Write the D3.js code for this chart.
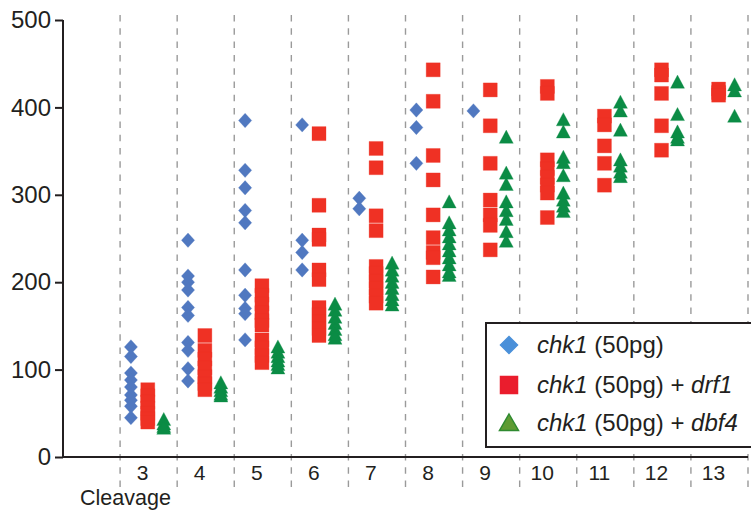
<!DOCTYPE html>
<html>
<head>
<meta charset="utf-8">
<script src="https://cdn.jsdelivr.net/npm/d3@7"></script>
<style>
  html, body { margin: 0; padding: 0; background: #fff; }
  svg { display: block; }
  text { font-family: "Liberation Sans", Arial, sans-serif; fill: #231f20; }
</style>
</head>
<body>
<svg id="chart" width="751" height="510"></svg>
<script>
// ---- Data ----
const categories = ["2","3","4","5","6","7","8","9","10","11","12","13"];
const categoryLabels = ["","3","4","5","6","7","8","9","10","11","12","13"];
const yTicks = [0, 100, 200, 300, 400, 500];
const seriesNames = ["chk1 (50pg)", "chk1 (50pg) + drf1", "chk1 (50pg) + dbf4"];

const chk1 = {
  "3": [126, 115, 96, 88, 80, 71, 65, 58, 45],
  "4": [248, 207, 200, 191, 171, 162, 131, 122, 101, 87],
  "5": [385, 328, 308, 282, 268, 214, 185, 170, 164, 134],
  "6": [380, 248, 234, 214],
  "7": [296, 284],
  "8": [397, 377, 336],
  "9": [396]
};
const drf1 = {
  "3": [77, 70, 63, 56, 50, 44, 40],
  "4": [139, 122, 112, 102, 92, 84, 77],
  "5": [196, 185, 175, 165, 156, 151, 134, 125, 116, 108],
  "6": [370, 288, 254, 249, 214, 203, 171, 163, 155, 147, 139],
  "7": [353, 331, 276, 259, 218, 210, 201, 193, 184, 176],
  "8": [443, 407, 345, 317, 277, 251, 234, 228, 206],
  "9": [420, 379, 336, 294, 277, 265, 237],
  "10": [424, 416, 340, 330, 320, 311, 302, 274],
  "11": [390, 380, 356, 336, 311],
  "12": [443, 437, 416, 379, 351],
  "13": [421, 417, 414]
};
const dbf4 = {
  "3": [43, 38, 35, 33],
  "4": [85, 80, 76, 72, 70],
  "5": [126, 120, 115, 110, 106, 102],
  "6": [175, 168, 160, 153, 146, 140, 136],
  "7": [222, 214, 207, 200, 193, 186, 180, 174],
  "8": [292, 268, 260, 252, 244, 236, 228, 220, 212, 208],
  "9": [366, 325, 312, 292, 282, 272, 258, 247],
  "10": [386, 372, 343, 337, 322, 302, 294, 287, 281],
  "11": [406, 396, 374, 340, 333, 326, 321],
  "12": [429, 392, 372, 366, 363],
  "13": [426, 419, 390]
};

// ---- Layout ----
const svg = d3.select("#chart");
const x = d3.scaleBand().domain(categories).range([63, 748]).padding(0);
const y = d3.scaleLinear().domain([0, 500]).range([457, 20]);
const bw = x.bandwidth();

// dashed grid lines at band right edges
svg.append("g").selectAll("line").data(categories).join("line")
  .attr("x1", d => x(d) + bw).attr("x2", d => x(d) + bw)
  .attr("y1", 15).attr("y2", 490)
  .attr("stroke", "#9a9a9a").attr("stroke-width", 1.4)
  .attr("stroke-dasharray", "6.5,6.8");

// series definitions
const blueC = "#5078c0", redC = "#ef3124", greenC = "#0b8c45";
const diamond = "M0,-7.2L6.6,0L0,7.2L-6.6,0Z";
const square = "M-7,-7H7V7H-7Z";
const triangle = "M0,-7L7,6.2L-7,6.2Z";

const series = [
  { data: chk1, frac: 0.19, path: diamond, color: blueC },
  { data: drf1, frac: 0.485, path: square, color: redC },
  { data: dbf4, frac: 0.765, path: triangle, color: greenC }
];

series.forEach(s => {
  const pts = [];
  Object.keys(s.data).forEach(k => s.data[k].forEach(v => pts.push({ k, v })));
  svg.append("g").selectAll("path").data(pts).join("path")
    .attr("d", s.path)
    .attr("transform", d => `translate(${x(d.k) + bw * s.frac},${y(d.v)})`)
    .attr("fill", s.color)
    .attr("stroke", s.color).attr("stroke-width", 0.6).attr("stroke-opacity", 0.5);
});

// Y axis
const yAxis = svg.append("g").attr("transform", "translate(63,0)")
  .call(d3.axisLeft(y).tickValues(yTicks).tickSize(8).tickPadding(4));
yAxis.select(".domain").attr("d", `M0,${y(500)}V${y(0)}`).attr("stroke", "#231f20").attr("stroke-width", 2);
yAxis.selectAll(".tick line").attr("stroke", "#231f20").attr("stroke-width", 2);
yAxis.selectAll(".tick text").attr("font-size", 24).attr("fill", "#231f20")
  .attr("font-family", "Liberation Sans, Arial, sans-serif");

// X axis
const xAxis = svg.append("g").attr("transform", `translate(0,${y(0)})`)
  .call(d3.axisBottom(x).tickSize(0).tickPadding(8).tickFormat((d, i) => categoryLabels[i]));
xAxis.select(".domain").attr("d", `M62,0H748`).attr("stroke", "#231f20").attr("stroke-width", 2);
xAxis.selectAll(".tick text").attr("font-size", 21).attr("fill", "#231f20")
  .attr("dx", -6)
  .attr("font-family", "Liberation Sans, Arial, sans-serif");

svg.append("text").attr("x", 80).attr("y", 504.5).attr("font-size", 21.5).text("Cleavage");

// Legend
const lg = svg.append("g");
lg.append("rect").attr("x", 486).attr("y", 323).attr("width", 280).attr("height", 124)
  .attr("fill", "#fff").attr("stroke", "#231f20").attr("stroke-width", 2);
const legendItems = [
  { path: "M0,-8.5L8.5,0L0,8.5L-8.5,0Z", fill: "#4a90d9", stroke: "#4a90d9", cy: 345, parts: [["chk1", true], [" (50pg)", false]] },
  { path: "M-8.5,-8.5H8.5V8.5H-8.5Z", fill: "#ea1d2d", stroke: "#ea1d2d", cy: 385, parts: [["chk1", true], [" (50pg) + ", false], ["drf1", true]] },
  { path: "M0,-9L9.5,7.5L-9.5,7.5Z", fill: "#5e9b33", stroke: "#2f8a30", cy: 423, parts: [["chk1", true], [" (50pg) + ", false], ["dbf4", true]] }
];
legendItems.forEach(it => {
  lg.append("path").attr("d", it.path).attr("transform", `translate(509,${it.cy})`)
    .attr("fill", it.fill).attr("stroke", it.stroke).attr("stroke-width", 1.5);
  const t = lg.append("text").attr("x", 537).attr("y", it.cy + 7.5).attr("font-size", 24);
  it.parts.forEach(p => t.append("tspan").attr("font-style", p[1] ? "italic" : "normal").text(p[0]));
});
</script>
</body>
</html>
